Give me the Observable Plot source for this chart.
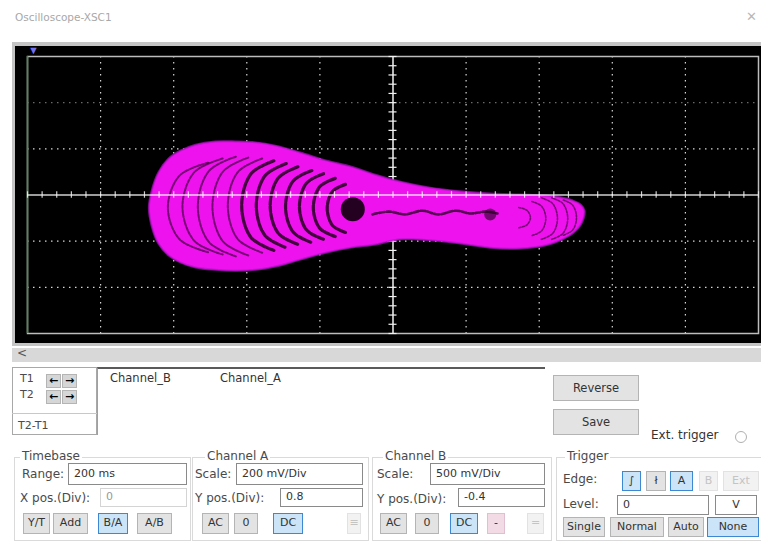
<!DOCTYPE html>
<html><head><meta charset="utf-8">
<script src="https://cdn.jsdelivr.net/npm/d3@7"></script>
<script src="https://cdn.jsdelivr.net/npm/@observablehq/plot@0.6"></script>
<style>
body{margin:0;width:761px;height:544px;overflow:hidden;background:#fff;font-family:"DejaVu Sans",sans-serif;font-size:12px;color:#4a4a4a;position:relative}
.a{position:absolute;white-space:nowrap}
.grp{position:absolute;box-sizing:border-box;border:1px solid #dadada}
.lab{position:absolute;white-space:nowrap;background:#fff;padding:0 2px}
.btn{position:absolute;box-sizing:border-box;background:#e3e3e3;border:1px solid #b4b4b4;text-align:center;font-size:11px;color:#333;white-space:nowrap}
.on{background:#cce4f7;border:1px solid #3c88d2}
.dis{color:#c4c4c4;background:#f2f2f2;border-color:#e2e2e2}
.fld{position:absolute;box-sizing:border-box;background:#fff;border:1px solid #8a8a8a;padding-left:5px;font-size:11px;color:#333;white-space:nowrap}
#scope svg{display:block}
</style></head>
<body>
<div class="a" style="left:15px;top:11px;font-size:10.5px;color:#a8a8a8">Oscilloscope-XSC1</div>
<div class="a" style="left:746px;top:9px;font-size:13px;color:#b8b8b8">✕</div>

<div class="a" style="left:12px;top:42px;width:760px;height:304px;background:#c4c4c4"></div>
<div id="scope" class="a" style="left:15px;top:46px;"></div>

<div class="a" style="left:12px;top:348px;width:760px;height:14px;background:#d8d8d8"></div>
<div class="a" style="left:17px;top:346px;font-size:12px;color:#555">&lt;</div>

<!-- cursor box -->
<div class="a" style="left:12px;top:367px;width:85px;height:68px;box-sizing:border-box;border:1px solid #a8a8a8"></div>
<div class="a" style="left:12px;top:413px;width:85px;height:1px;background:#c8c8c8"></div>
<div class="a" style="left:20px;top:372px;font-size:11px">T1</div>
<div class="a" style="left:20px;top:388px;font-size:11px">T2</div>
<div class="a" style="left:18px;top:419px;font-size:11px">T2-T1</div>
<div class="btn" style="left:46px;top:374px;width:15px;height:14px;line-height:11px;font-weight:bold;background:#d6d6d6;color:#000">←</div>
<div class="btn" style="left:62px;top:374px;width:15px;height:14px;line-height:11px;font-weight:bold;background:#d6d6d6;color:#000">→</div>
<div class="btn" style="left:46px;top:390px;width:15px;height:14px;line-height:11px;font-weight:bold;background:#d6d6d6;color:#000">←</div>
<div class="btn" style="left:62px;top:390px;width:15px;height:14px;line-height:11px;font-weight:bold;background:#d6d6d6;color:#000">→</div>

<!-- readout -->
<div class="a" style="left:97px;top:367px;width:448px;height:68px;box-sizing:border-box;border-top:2px solid #5a5a5a;border-left:1px solid #a0a0a0"></div>
<div class="a" style="left:110px;top:371px;font-size:11.5px;color:#333">Channel_B</div>
<div class="a" style="left:220px;top:371px;font-size:11.5px;color:#333">Channel_A</div>

<div class="btn" style="left:553px;top:375px;width:86px;height:26px;line-height:24px;font-size:11.5px">Reverse</div>
<div class="btn" style="left:553px;top:409px;width:86px;height:26px;line-height:24px;font-size:11.5px">Save</div>
<div class="a" style="left:651px;top:428px;font-size:12px;color:#333">Ext. trigger</div>
<div class="a" style="left:735px;top:431px;width:12px;height:12px;box-sizing:border-box;border:1px solid #b0b0b0;border-radius:50%;background:#fff"></div>

<!-- group boxes -->
<div class="grp" style="left:14px;top:457px;width:177px;height:84px"></div>
<div class="grp" style="left:192px;top:457px;width:177px;height:84px"></div>
<div class="grp" style="left:372px;top:457px;width:180px;height:84px"></div>
<div class="grp" style="left:556px;top:457px;width:210px;height:84px"></div>
<div class="lab" style="left:20px;top:449px">Timebase</div>
<div class="lab" style="left:205px;top:449px">Channel A</div>
<div class="lab" style="left:383px;top:449px">Channel B</div>
<div class="lab" style="left:565px;top:449px">Trigger</div>

<!-- timebase -->
<div class="a" style="left:22px;top:467px">Range:</div>
<div class="fld" style="left:68px;top:463px;width:119px;height:22px;line-height:19px">200 ms</div>
<div class="a" style="left:20px;top:491px">X pos.(Div):</div>
<div class="fld" style="left:100px;top:488px;width:87px;height:19px;line-height:16px;color:#999;border-color:#d4d4d4">0</div>
<div class="btn" style="left:23px;top:513px;width:27px;height:21px;line-height:18px">Y/T</div>
<div class="btn" style="left:53px;top:513px;width:35px;height:21px;line-height:18px">Add</div>
<div class="btn on" style="left:98px;top:513px;width:30px;height:21px;line-height:18px">B/A</div>
<div class="btn" style="left:137px;top:513px;width:35px;height:21px;line-height:18px">A/B</div>

<!-- channel A -->
<div class="a" style="left:195px;top:467px">Scale:</div>
<div class="fld" style="left:236px;top:463px;width:127px;height:22px;line-height:19px">200 mV/Div</div>
<div class="a" style="left:195px;top:491px">Y pos.(Div):</div>
<div class="fld" style="left:280px;top:488px;width:83px;height:19px;line-height:16px">0.8</div>
<div class="btn" style="left:202px;top:513px;width:27px;height:21px;line-height:18px">AC</div>
<div class="btn" style="left:234px;top:513px;width:24px;height:21px;line-height:18px">0</div>
<div class="btn on" style="left:273px;top:513px;width:30px;height:21px;line-height:18px">DC</div>
<div class="btn dis" style="left:347px;top:513px;width:14px;height:21px;line-height:18px">≡</div>

<!-- channel B -->
<div class="a" style="left:377px;top:467px">Scale:</div>
<div class="fld" style="left:430px;top:463px;width:115px;height:22px;line-height:19px">500 mV/Div</div>
<div class="a" style="left:377px;top:492px">Y pos.(Div):</div>
<div class="fld" style="left:458px;top:488px;width:87px;height:19px;line-height:16px">-0.4</div>
<div class="btn" style="left:380px;top:513px;width:27px;height:21px;line-height:18px">AC</div>
<div class="btn" style="left:415px;top:513px;width:24px;height:21px;line-height:18px">0</div>
<div class="btn on" style="left:450px;top:513px;width:28px;height:21px;line-height:18px">DC</div>
<div class="btn" style="left:487px;top:513px;width:18px;height:21px;line-height:18px;background:#f3dbe6;border-color:#e0c0d0">-</div>
<div class="btn dis" style="left:527px;top:513px;width:17px;height:21px;line-height:18px">=</div>

<!-- trigger -->
<div class="a" style="left:563px;top:472px">Edge:</div>
<div class="btn on" style="left:622px;top:471px;width:19px;height:20px;line-height:17px">∫</div>
<div class="btn" style="left:646px;top:471px;width:20px;height:20px;line-height:17px">ł</div>
<div class="btn on" style="left:670px;top:471px;width:23px;height:20px;line-height:17px">A</div>
<div class="btn dis" style="left:699px;top:471px;width:19px;height:20px;line-height:17px">B</div>
<div class="btn dis" style="left:723px;top:471px;width:36px;height:20px;line-height:17px">Ext</div>
<div class="a" style="left:563px;top:497px">Level:</div>
<div class="fld" style="left:617px;top:495px;width:92px;height:20px;line-height:17px">0</div>
<div class="fld" style="left:715px;top:495px;width:42px;height:20px;line-height:17px;text-align:center;padding-left:0">V</div>
<div class="btn" style="left:563px;top:517px;width:42px;height:20px;line-height:17px">Single</div>
<div class="btn" style="left:610px;top:517px;width:54px;height:20px;line-height:17px">Normal</div>
<div class="btn" style="left:668px;top:517px;width:36px;height:20px;line-height:17px">Auto</div>
<div class="btn on" style="left:707px;top:517px;width:52px;height:20px;line-height:17px">None</div>

<script>
// Screen in divisions: x = Channel A (200 mV/Div), y = Channel B (500 mV/Div)
const gridX = [-4, -3, -2, -1, 1, 2, 3, 4];
const gridYBright = [-2, -1, 1];
const gridYDim = [2];

// outer envelope of the B/A trace (divisions)
const envX   = [-3.34,-3.30,-3.21,-3.07,-2.91,-2.70,-2.43,-2.15,-1.88,-1.61,-1.27,-0.92,-0.58,-0.24,0.10,0.51,0.92,1.33,1.74,2.09,2.29,2.46,2.57,2.62];
const envTop = [-0.27,0.10,0.49,0.79,0.96,1.09,1.16,1.16,1.14,1.07,0.92,0.75,0.62,0.44,0.29,0.16,0.08,0.03,0.01,-0.01,-0.05,-0.12,-0.21,-0.34];
const envBot = [-0.27,-0.68,-1.05,-1.31,-1.46,-1.57,-1.62,-1.64,-1.62,-1.55,-1.40,-1.25,-1.14,-1.07,-0.96,-0.98,-1.05,-1.14,-1.16,-1.09,-0.98,-0.83,-0.64,-0.38];

// dark gaps between the loops in the left bulb: left extreme, centre y, half height, depth
const gapLX = [-3.08,-2.88,-2.67,-2.47,-2.26,-2.07,-1.87,-1.68,-1.47,-1.28,-1.09,-0.90];
const gapLY = [-0.27,-0.25,-0.25,-0.25,-0.23,-0.23,-0.23,-0.23,-0.25,-0.25,-0.27,-0.29];
const gapLH = [0.97,1.04,1.08,1.06,1.02,0.97,0.91,0.84,0.78,0.71,0.63,0.52];
const gapLW = [0.55,0.55,0.52,0.49,0.47,0.44,0.41,0.38,0.36,0.33,0.30,0.25];
const gapLStrong = [false,false,false,false,false,true,true,true,true,true,true,true];

// dark gaps in the right lobe: right extreme, centre y, half height, depth
const gapRX = [1.88,2.09,2.25,2.39,2.51];
const gapRY = [-0.49,-0.51,-0.51,-0.51,-0.49];
const gapRH = [0.22,0.37,0.45,0.45,0.38];
const gapRW = [0.16,0.19,0.22,0.22,0.18];

// inner holes of the spiral
const holeX = [-0.55];
const holeY = [-0.31];
const hole2X = [1.33];
const hole2Y = [-0.42];

// dark inner trace along the tail
const tailX = [-0.28,-0.06,0.17,0.40,0.62,0.86,1.06,1.27,1.43];
const tailY = [-0.42,-0.36,-0.42,-0.34,-0.42,-0.34,-0.40,-0.36,-0.40];

const cursorX = [-5];

// ---- build tables
const outline = [
  ...envX.map((x, i) => ({x, y: envTop[i]})),
  ...envX.map((x, i) => ({x, y: envBot[i]})).slice(1, -1).reverse()
];
function arcs(xs, ys, hs, ws, dir, keep) {
  const out = [];
  xs.forEach((x, i) => {
    if (keep && !keep(i)) return;
    const yc = ys[i], h = hs[i], w = ws[i] * dir;
    [[w, h], [0.29 * w, 0.71 * h], [0, 0], [0.29 * w, -0.71 * h], [w, -h]]
      .forEach(([dx, dy]) => out.push({x: x + dx, y: yc + dy, id: i}));
  });
  return out;
}
const gapFaint = arcs(gapLX, gapLY, gapLH, gapLW, 1, i => !gapLStrong[i]);
const gapStrong = arcs(gapLX, gapLY, gapLH, gapLW, 1, i => gapLStrong[i]);
const gapRight = arcs(gapRX, gapRY, gapRH, gapRW, -1);
const holes = holeX.map((x, i) => ({x, y: holeY[i]}));
const holes2 = hole2X.map((x, i) => ({x, y: hole2Y[i]}));
const tail = tailX.map((x, i) => ({x, y: tailY[i]}));
const minorX = d3.range(-25, 26).map(k => k / 5);
const minorY = d3.range(-15, 16).map(k => k / 5);

const magenta = "#ee12ee";
const dark = "#24001f";

const chart = Plot.plot({
  width: 746, height: 297,
  marginLeft: 12, marginRight: 3, marginTop: 10, marginBottom: 10,
  x: {domain: [-5, 5], axis: null},
  y: {domain: [-3, 3], axis: null},
  style: {background: "#000", overflow: "visible"},
  marks: [
    Plot.ruleX(gridX, {stroke: "#d6d6d6", strokeWidth: 1.2, strokeDasharray: "1.5,4.5"}),
    Plot.ruleY(gridYBright, {stroke: "#d6d6d6", strokeWidth: 1.2, strokeDasharray: "1.5,4.5"}),
    Plot.ruleY(gridYDim, {stroke: "#6a6a6a", strokeWidth: 1.2, strokeDasharray: "1.5,4.5"}),
    Plot.frame({stroke: "#bdbdbd", strokeWidth: 1.5}),
    Plot.ruleX(cursorX, {stroke: "#4f8a56", strokeWidth: 1.5}),
    Plot.ruleX([0], {stroke: "#f2f2f2", strokeWidth: 1.5}),
    Plot.ruleY(minorY, {x1: -0.055, x2: 0.055, stroke: "#f2f2f2", strokeWidth: 1.2}),
    // trace
    Plot.line(outline, {x: "x", y: "y", curve: "catmull-rom-closed", fill: magenta, stroke: "#b014c8", strokeWidth: 2, strokeOpacity: 0.7}),
    Plot.line(gapFaint, {x: "x", y: "y", z: "id", curve: "catmull-rom", stroke: dark, strokeWidth: 2, strokeOpacity: 0.6, strokeDasharray: "3,1.5"}),
    Plot.line(gapStrong, {x: "x", y: "y", z: "id", curve: "catmull-rom", stroke: dark, strokeWidth: 3.2, strokeOpacity: 0.85, strokeDasharray: "6,1.5"}),
    Plot.line(gapRight, {x: "x", y: "y", z: "id", curve: "catmull-rom", stroke: dark, strokeWidth: 1.6, strokeOpacity: 0.6, strokeDasharray: "2,1.5"}),
    Plot.line(tail, {x: "x", y: "y", curve: "catmull-rom", stroke: dark, strokeWidth: 2.6, strokeOpacity: 0.75, strokeDasharray: "5,2"}),
    Plot.dot(holes, {x: "x", y: "y", r: 12, fill: "#14000f", fillOpacity: 0.92}),
    Plot.dot(holes2, {x: "x", y: "y", r: 6, fill: dark, fillOpacity: 0.6}),
    // horizontal centre axis drawn over the trace
    Plot.ruleY([0], {stroke: "#f4f4f4", strokeWidth: 1.5, strokeOpacity: 0.85}),
    Plot.ruleX(minorX, {y1: -0.07, y2: 0.07, stroke: "#f2f2f2", strokeWidth: 1.2, strokeOpacity: 0.85}),
    Plot.text(cursorX, {x: d => d, y: 3, text: () => "▼", dx: 6, dy: -6, fill: "#7272ee", fontSize: 11})
  ]
});
document.getElementById("scope").appendChild(chart);
</script>
</body></html>
